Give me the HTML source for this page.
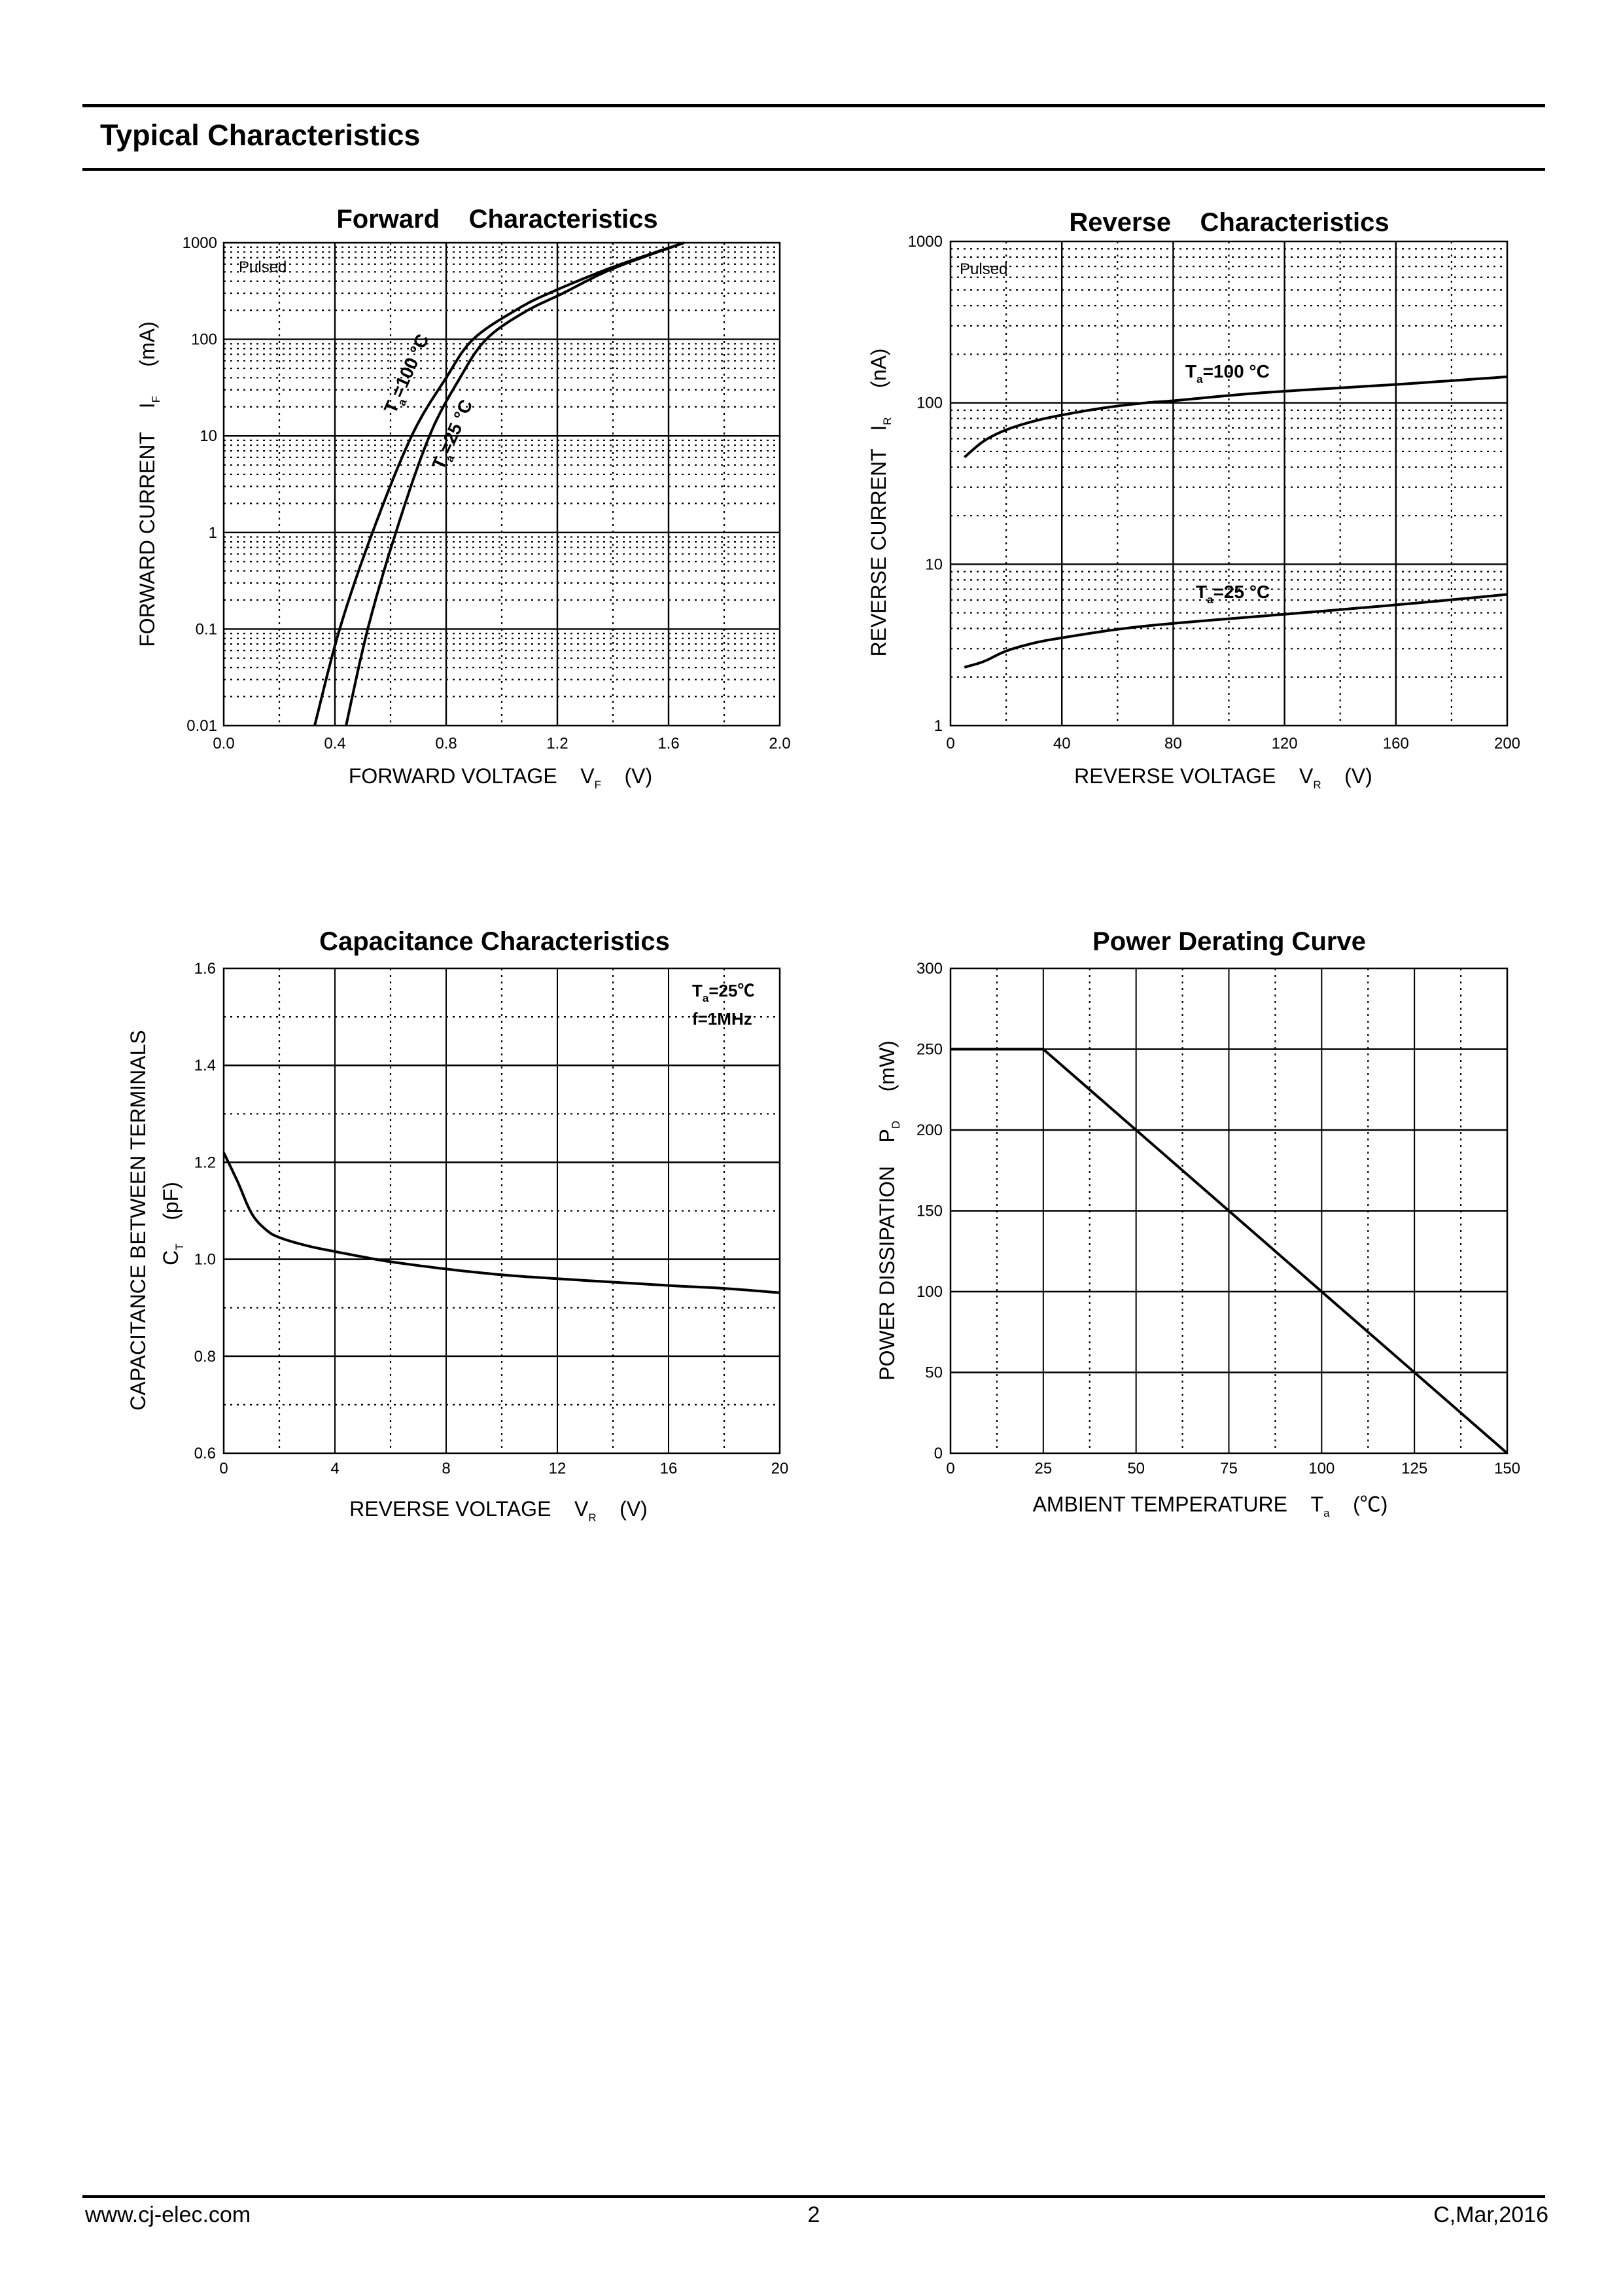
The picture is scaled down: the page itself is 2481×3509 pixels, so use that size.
<!DOCTYPE html>
<html><head><meta charset="utf-8">
<style>
html,body{margin:0;padding:0;background:#fff;}
body{width:2481px;height:3509px;position:relative;overflow:hidden;font-family:"Liberation Sans","Noto Sans CJK SC",sans-serif;}
svg{position:absolute;left:0;top:0;}
</style></head>
<body>
<svg id="s" width="2481" height="3509" viewBox="0 0 2481 3509" xmlns="http://www.w3.org/2000/svg" font-family="Liberation Sans, Noto Sans CJK SC, sans-serif">
<rect x="126" y="159" width="2236" height="5" fill="#000"/>
<text x="153" y="222" font-size="45" font-weight="bold">Typical Characteristics</text>
<rect x="126" y="257" width="2236" height="4" fill="#000"/>
<rect x="126" y="3355" width="2236" height="4" fill="#000"/>
<text x="130" y="3396" font-size="34">www.cj-elec.com</text>
<text x="1244" y="3396" font-size="34" text-anchor="middle">2</text>
<text x="2367" y="3396" font-size="34" text-anchor="end">C,Mar,2016</text>
<g id="g"></g>
</svg>
<script>
var NS="http://www.w3.org/2000/svg",g=document.getElementById('g'),h='';
function L(x1,y1,x2,y2,w,dash){h+='<line x1="'+x1+'" y1="'+y1+'" x2="'+x2+'" y2="'+y2+'" stroke="#000" stroke-width="'+w+'"'+(dash?' stroke-dasharray="3,7"':'')+'/>';}
function T(x,y,s,size,anc,extra){h+='<text x="'+x+'" y="'+y+'" font-size="'+size+'" text-anchor="'+(anc||'middle')+'" '+(extra||'')+'>'+s+'</text>';}
function P(pts,w){var d='M'+pts.map(function(p){return p[0].toFixed(1)+','+p[1].toFixed(1)}).join('L');h+='<path d="'+d+'" fill="none" stroke="#000" stroke-width="'+w+'" stroke-linejoin="round"/>';}
function spline(pts,n){ // catmull-rom
 var out=[];for(var i=0;i<pts.length-1;i++){var p0=pts[Math.max(0,i-1)],p1=pts[i],p2=pts[i+1],p3=pts[Math.min(pts.length-1,i+2)];
 for(var t=0;t<n;t++){var u=t/n,u2=u*u,u3=u2*u;out.push([0.5*((2*p1[0])+(-p0[0]+p2[0])*u+(2*p0[0]-5*p1[0]+4*p2[0]-p3[0])*u2+(-p0[0]+3*p1[0]-3*p2[0]+p3[0])*u3),0.5*((2*p1[1])+(-p0[1]+p2[1])*u+(2*p0[1]-5*p1[1]+4*p2[1]-p3[1])*u2+(-p0[1]+3*p1[1]-3*p2[1]+p3[1])*u3)]);}}
 out.push(pts[pts.length-1]);return out;}
var lg=Math.log10;
// ===== Forward
(function(){var X0=342,X1=1192,Y0=371,Y1=1109;
 function px(v){return X0+(X1-X0)*v/2}function py(i){return Y1-(lg(i)+2)*(Y1-Y0)/5}
 for(var d=-2;d<3;d++)for(var k=2;k<10;k++){var y=py(k*Math.pow(10,d));L(X0,y,X1,y,2.2,1);}
 for(var v=0.2;v<2;v+=0.4)L(px(v),Y0,px(v),Y1,2.2,1);
 for(var v=0.4;v<1.9;v+=0.4)L(px(v),Y0,px(v),Y1,2.4);
 for(var d=-1;d<3;d++)L(X0,py(Math.pow(10,d)),X1,py(Math.pow(10,d)),2.4);
 h+='<rect x="'+X0+'" y="'+Y0+'" width="'+(X1-X0)+'" height="'+(Y1-Y0)+'" fill="none" stroke="#000" stroke-width="2.5"/>';
 var yl=['0.01','0.1','1','10','100','1000'];for(var i=0;i<6;i++)T(X0-10,py(Math.pow(10,i-2))+8,yl[i],24,'end');
 for(var i=0;i<=5;i++)T(px(i*0.4),1144,(i*0.4).toFixed(1),24);
 T(760,348,'Forward&#160;&#160;&#160;&#160;Characteristics',40,'middle','font-weight="bold"');
 T(365,416,'Pulsed',24,'start');
 T(765,1197,'FORWARD VOLTAGE&#160;&#160;&#160;&#160;V<tspan font-size="17" dy="8">F</tspan><tspan dy="-8">&#160;&#160;&#160;&#160;(V)</tspan>',32);
 T(0,0,'FORWARD CURRENT&#160;&#160;&#160;&#160;I<tspan font-size="17" dy="8">F</tspan><tspan dy="-8">&#160;&#160;&#160;&#160;&#160;(mA)</tspan>',32,'middle','transform="translate(236,740) rotate(-90)"');
 var a=[[0.327,0.01],[0.417,0.1],[0.535,1],[0.676,10],[0.80,40],[0.897,100],[1.05,200],[1.17,300],[1.40,560],[1.656,1000]];
 var b=[[0.44,0.01],[0.518,0.1],[0.619,1],[0.74,10],[0.85,40],[0.944,100],[1.08,190],[1.22,300],[1.40,540],[1.656,1000]];
 [a,b].forEach(function(c){P(spline(c.map(function(p){return[px(p[0]),py(p[1])]}),12),4);});
 T(0,0,'T<tspan font-size="17" dy="8">a</tspan><tspan dy="-8">=100 °C</tspan>',28,'middle','font-weight="bold" transform="translate(630,575) rotate(-66)"');
 T(0,0,'T<tspan font-size="17" dy="8">a</tspan><tspan dy="-8">=25 °C</tspan>',28,'middle','font-weight="bold" transform="translate(700,668) rotate(-66)"');
})();
// ===== Reverse
(function(){var X0=1453,X1=2304,Y0=369,Y1=1109;
 function px(v){return X0+(X1-X0)*v/200}function py(i){return Y1-lg(i)*(Y1-Y0)/3}
 for(var d=0;d<3;d++)for(var k=2;k<10;k++){var y=py(k*Math.pow(10,d));L(X0,y,X1,y,2.2,1);}
 for(var v=20;v<200;v+=40)L(px(v),Y0,px(v),Y1,2.2,1);
 for(var v=40;v<200;v+=40)L(px(v),Y0,px(v),Y1,2.4);
 L(X0,py(10),X1,py(10),2.4);L(X0,py(100),X1,py(100),2.4);
 h+='<rect x="'+X0+'" y="'+Y0+'" width="'+(X1-X0)+'" height="'+(Y1-Y0)+'" fill="none" stroke="#000" stroke-width="2.5"/>';
 var yl=['1','10','100','1000'];for(var i=0;i<4;i++)T(X0-12,py(Math.pow(10,i))+8,yl[i],24,'end');
 for(var i=0;i<=5;i++)T(px(i*40),1144,''+(i*40),24);
 T(1879,353,'Reverse&#160;&#160;&#160;&#160;Characteristics',40,'middle','font-weight="bold"');
 T(1467,419,'Pulsed',24,'start');
 T(1870,1197,'REVERSE VOLTAGE&#160;&#160;&#160;&#160;V<tspan font-size="17" dy="8">R</tspan><tspan dy="-8">&#160;&#160;&#160;&#160;(V)</tspan>',32);
 T(0,0,'REVERSE CURRENT&#160;&#160;&#160;I<tspan font-size="17" dy="8">R</tspan><tspan dy="-8">&#160;&#160;&#160;&#160;&#160;(nA)</tspan>',32,'middle','transform="translate(1354,768) rotate(-90)"');
 var a=[[5,46],[12,58],[20,68],[30,77],[40,84],[55,93],[70,100],[80,103],[100,111],[120,118],[160,130],[200,145]];
 var b=[[5,2.3],[12,2.5],[20,2.9],[30,3.25],[40,3.5],[60,3.95],[80,4.3],[120,4.9],[160,5.6],[200,6.5]];
 [a,b].forEach(function(c){P(spline(c.map(function(p){return[px(p[0]),py(p[1])]}),12),4);});
 T(1812,577,'T<tspan font-size="17" dy="8">a</tspan><tspan dy="-8">=100 °C</tspan>',28,'start','font-weight="bold"');
 T(1828,914,'T<tspan font-size="17" dy="8">a</tspan><tspan dy="-8">=25 °C</tspan>',28,'start','font-weight="bold"');
})();
// ===== Capacitance
(function(){var X0=342,X1=1192,Y0=1480,Y1=2221;
 function px(v){return X0+(X1-X0)*v/20}function py(c){return Y1-(c-0.6)*(Y1-Y0)}
 for(var c=0.7;c<1.6;c+=0.2)L(X0,py(c),X1,py(c),2.2,1);
 for(var v=2;v<20;v+=4)L(px(v),Y0,px(v),Y1,2.2,1);
 for(var v=4;v<20;v+=4)L(px(v),Y0,px(v),Y1,2);
 for(var c=0.8;c<1.55;c+=0.2)L(X0,py(c),X1,py(c),2.6);
 h+='<rect x="'+X0+'" y="'+Y0+'" width="'+(X1-X0)+'" height="'+(Y1-Y0)+'" fill="none" stroke="#000" stroke-width="2.5"/>';
 for(var i=0;i<=5;i++)T(X0-12,py(0.6+i*0.2)+8,(0.6+i*0.2).toFixed(1),24,'end');
 for(var i=0;i<=5;i++)T(px(i*4),2252,''+(i*4),24);
 T(756,1452,'Capacitance Characteristics',40,'middle','font-weight="bold"');
 T(1058,1523,'T<tspan font-size="17" dy="8">a</tspan><tspan dy="-8">=25℃</tspan>',26,'start','font-weight="bold"');
 T(1058,1566,'f=1MHz',26,'start','font-weight="bold"');
 T(762,2317,'REVERSE VOLTAGE&#160;&#160;&#160;&#160;V<tspan font-size="17" dy="8">R</tspan><tspan dy="-8">&#160;&#160;&#160;&#160;(V)</tspan>',32);
 T(0,0,'CAPACITANCE BETWEEN TERMINALS',32,'middle','transform="translate(222,1865) rotate(-90)"');
 T(0,0,'C<tspan font-size="17" dy="8">T</tspan><tspan dy="-8">&#160;&#160;&#160;&#160;(pF)</tspan>',32,'middle','transform="translate(272,1870) rotate(-90)"');
 var a=[[0,1.22],[0.5,1.16],[1,1.095],[1.5,1.062],[2,1.045],[3,1.028],[4,1.016],[5,1.005],[6,0.995],[8,0.98],[10,0.968],[12,0.96],[16,0.946],[18,0.94],[20,0.931]];
 P(spline(a.map(function(p){return[px(p[0]),py(p[1])]}),12),4);
})();
// ===== Power derating
(function(){var X0=1453,X1=2304,Y0=1480,Y1=2221;
 function px(v){return X0+(X1-X0)*v/150}function py(c){return Y1-c*(Y1-Y0)/300}
 for(var v=12.5;v<150;v+=25)L(px(v),Y0,px(v),Y1,2.2,1);
 for(var v=25;v<150;v+=25)L(px(v),Y0,px(v),Y1,2);
 for(var c=50;c<300;c+=50)L(X0,py(c),X1,py(c),2.6);
 h+='<rect x="'+X0+'" y="'+Y0+'" width="'+(X1-X0)+'" height="'+(Y1-Y0)+'" fill="none" stroke="#000" stroke-width="2.5"/>';
 for(var i=0;i<=6;i++)T(X0-12,py(i*50)+8,''+(i*50),24,'end');
 for(var i=0;i<=6;i++)T(px(i*25),2252,''+(i*25),24);
 T(1879,1452,'Power Derating Curve',40,'middle','font-weight="bold"');
 T(1850,2310,'AMBIENT TEMPERATURE&#160;&#160;&#160;&#160;T<tspan font-size="17" dy="8">a</tspan><tspan dy="-8">&#160;&#160;&#160;&#160;(℃)</tspan>',32);
 T(0,0,'POWER DISSIPATION&#160;&#160;&#160;&#160;P<tspan font-size="17" dy="8">D</tspan><tspan dy="-8">&#160;&#160;&#160;&#160;&#160;(mW)</tspan>',32,'middle','transform="translate(1367,1850) rotate(-90)"');
 P([[px(0),py(250)],[px(25),py(250)],[px(150),py(0)]],4);
})();
g.innerHTML=h;
</script>
</body></html>
